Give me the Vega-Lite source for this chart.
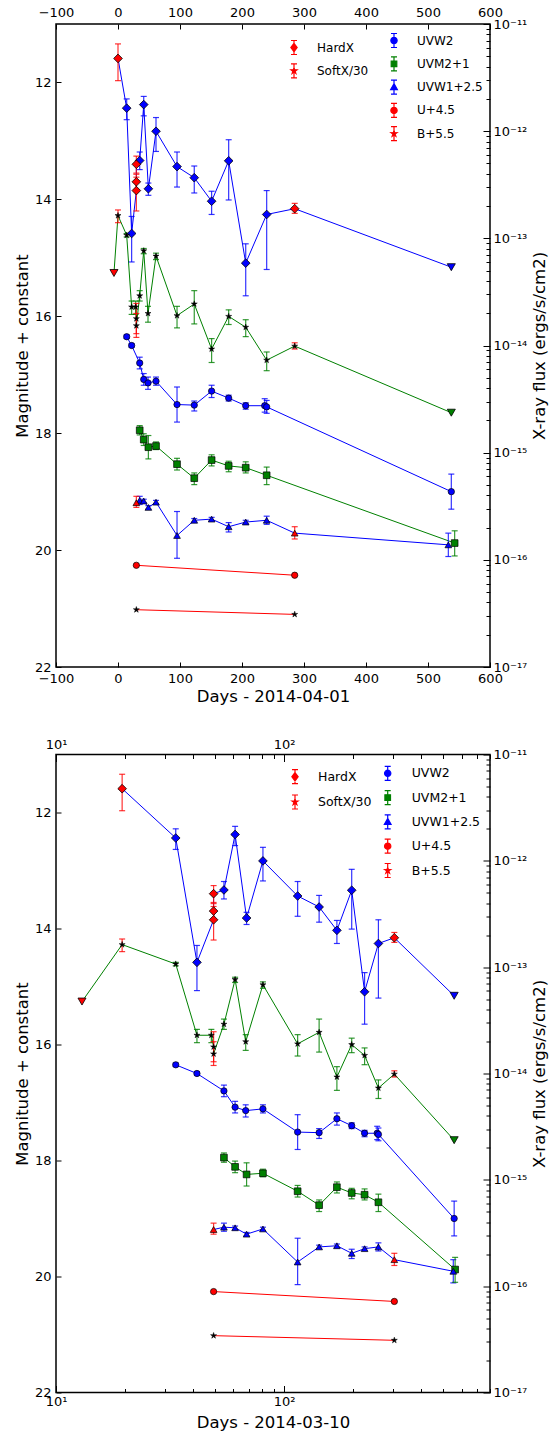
{
"$schema":"https://vega.github.io/schema/vega-lite/v6.json",
"padding":{"left":13,"top":5,"right":0,"bottom":0},
"spacing":28.5,
"data":{"values":[
{"s":"HardX","src":2,"d":0,"d2":19.5,"v":4.77e-12,"lo":2.96e-12,"hi":6.52e-12},
{"s":"HardX","src":1,"d":14,"d2":33.5,"v":1.64e-12,"lo":1.28e-12,"hi":2.0e-12},
{"s":"HardX","src":1,"d":22,"d2":41.5,"v":1.11e-13,"lo":6.02e-14,"hi":1.6e-13},
{"s":"HardX","src":2,"d":29.6,"d2":49.1,"v":2.79e-13,"lo":1.8e-13,"hi":3.72e-13},
{"s":"HardX","src":2,"d":29.6,"d2":49.1,"v":3.37e-13,"lo":2.79e-13,"hi":3.96e-13},
{"s":"HardX","src":2,"d":29.6,"d2":49.1,"v":4.91e-13,"lo":4.06e-13,"hi":5.85e-13},
{"s":"HardX","src":1,"d":35,"d2":54.5,"v":5.32e-13,"lo":4.38e-13,"hi":6.39e-13},
{"s":"HardX","src":1,"d":41.5,"d2":61,"v":1.77e-12,"lo":1.39e-12,"hi":2.11e-12},
{"s":"HardX","src":1,"d":49,"d2":68.5,"v":2.9e-13,"lo":2.52e-13,"hi":3.28e-13},
{"s":"HardX","src":1,"d":61.3,"d2":80.8,"v":9.98e-13,"lo":6.47e-13,"hi":1.34e-12},
{"s":"HardX","src":1,"d":95.2,"d2":114.7,"v":4.67e-13,"lo":3.01e-13,"hi":6.39e-13},
{"s":"HardX","src":1,"d":123,"d2":142.5,"v":3.68e-13,"lo":2.65e-13,"hi":4.73e-13},
{"s":"HardX","src":1,"d":151,"d2":170.5,"v":2.22e-13,"lo":1.67e-13,"hi":2.75e-13},
{"s":"HardX","src":1,"d":178.5,"d2":198,"v":5.29e-13,"lo":2.28e-13,"hi":8.32e-13},
{"s":"HardX","src":1,"d":206,"d2":225.5,"v":5.87e-14,"lo":2.91e-14,"hi":8.89e-14},
{"s":"HardX","src":1,"d":239.8,"d2":259.3,"v":1.67e-13,"lo":5.12e-14,"hi":2.79e-13},
{"s":"HardX","src":2,"d":285,"d2":304.5,"v":1.89e-13,"lo":1.71e-13,"hi":2.12e-13},
{"s":"HardX","src":1,"ul":true,"d":537.6,"d2":557.1,"v":5.38e-14},
{"s":"SoftX","src":2,"ul":true,"d":-6.5,"d2":13,"v":4.75e-14},
{"s":"SoftX","src":2,"d":0,"d2":19.5,"v":1.63e-13,"lo":1.4e-13,"hi":1.84e-13},
{"s":"SoftX","src":1,"d":14,"d2":33.5,"v":1.07e-13,"lo":1.03e-13,"hi":1.11e-13},
{"s":"SoftX","src":1,"d":22,"d2":41.5,"v":2.29e-14,"lo":1.95e-14,"hi":2.6e-14},
{"s":"SoftX","src":1,"d":28.5,"d2":48,"v":2.29e-14,"lo":1.95e-14,"hi":2.6e-14},
{"s":"SoftX","src":2,"d":29.6,"d2":49.1,"v":1.78e-14,"lo":1.29e-14,"hi":2.47e-14},
{"s":"SoftX","src":2,"d":29.6,"d2":49.1,"v":1.53e-14,"lo":1.19e-14,"hi":1.99e-14},
{"s":"SoftX","src":1,"d":35,"d2":54.5,"v":2.91e-14,"lo":2.6e-14,"hi":3.25e-14},
{"s":"SoftX","src":1,"d":41.5,"d2":61,"v":7.65e-14,"lo":7.18e-14,"hi":8.04e-14},
{"s":"SoftX","src":1,"d":48.4,"d2":67.9,"v":1.99e-14,"lo":1.65e-14,"hi":2.32e-14},
{"s":"SoftX","src":1,"d":61.3,"d2":80.8,"v":6.83e-14,"lo":6.33e-14,"hi":7.27e-14},
{"s":"SoftX","src":1,"d":95.2,"d2":114.7,"v":1.9e-14,"lo":1.46e-14,"hi":2.32e-14},
{"s":"SoftX","src":1,"d":123,"d2":142.5,"v":2.44e-14,"lo":1.59e-14,"hi":3.25e-14},
{"s":"SoftX","src":1,"d":151,"d2":170.5,"v":9.27e-15,"lo":6.94e-15,"hi":1.16e-14},
{"s":"SoftX","src":1,"d":178.5,"d2":198,"v":1.87e-14,"lo":1.57e-14,"hi":2.15e-14},
{"s":"SoftX","src":1,"d":206,"d2":225.5,"v":1.48e-14,"lo":1.21e-14,"hi":1.74e-14},
{"s":"SoftX","src":1,"d":239.8,"d2":259.3,"v":7.3e-15,"lo":5.82e-15,"hi":8.7e-15},
{"s":"SoftX","src":2,"d":285,"d2":304.5,"v":9.87e-15,"lo":9.27e-15,"hi":1.06e-14},
{"s":"SoftX","src":1,"ul":true,"d":537.6,"d2":557.1,"v":2.36e-15},
{"s":"UVW2","src":1,"d":14,"d2":33.5,"v":16.35,"lo":16.32,"hi":16.38},
{"s":"UVW2","src":1,"d":22,"d2":41.5,"v":16.5,"lo":16.47,"hi":16.53},
{"s":"UVW2","src":1,"d":35,"d2":54.5,"v":16.8,"lo":16.7,"hi":16.9},
{"s":"UVW2","src":1,"d":41.5,"d2":61,"v":17.08,"lo":16.98,"hi":17.18},
{"s":"UVW2","src":1,"d":48.4,"d2":67.9,"v":17.14,"lo":17.04,"hi":17.25},
{"s":"UVW2","src":1,"d":61.3,"d2":80.8,"v":17.11,"lo":17.04,"hi":17.18},
{"s":"UVW2","src":1,"d":95.2,"d2":114.7,"v":17.51,"lo":17.21,"hi":17.81},
{"s":"UVW2","src":1,"d":123,"d2":142.5,"v":17.52,"lo":17.45,"hi":17.62},
{"s":"UVW2","src":1,"d":151,"d2":170.5,"v":17.28,"lo":17.18,"hi":17.39},
{"s":"UVW2","src":1,"d":178.5,"d2":198,"v":17.4,"lo":17.35,"hi":17.45},
{"s":"UVW2","src":1,"d":206,"d2":225.5,"v":17.53,"lo":17.48,"hi":17.59},
{"s":"UVW2","src":1,"d":236.6,"d2":256.1,"v":17.53,"lo":17.41,"hi":17.64},
{"s":"UVW2","src":1,"d":239.8,"d2":259.3,"v":17.55,"lo":17.44,"hi":17.66},
{"s":"UVW2","src":1,"d":537.6,"d2":557.1,"v":19.0,"lo":18.7,"hi":19.3},
{"s":"UVM2","src":1,"d":35,"d2":54.5,"v":17.95,"lo":17.87,"hi":18.03},
{"s":"UVM2","src":1,"d":41.5,"d2":61,"v":18.11,"lo":18.01,"hi":18.21},
{"s":"UVM2","src":1,"d":49,"d2":68.5,"v":18.24,"lo":18.04,"hi":18.44},
{"s":"UVM2","src":1,"d":61.3,"d2":80.8,"v":18.22,"lo":18.15,"hi":18.28},
{"s":"UVM2","src":1,"d":95.2,"d2":114.7,"v":18.53,"lo":18.43,"hi":18.63},
{"s":"UVM2","src":1,"d":123,"d2":142.5,"v":18.77,"lo":18.68,"hi":18.88},
{"s":"UVM2","src":1,"d":151,"d2":170.5,"v":18.46,"lo":18.37,"hi":18.56},
{"s":"UVM2","src":1,"d":178.5,"d2":198,"v":18.56,"lo":18.48,"hi":18.66},
{"s":"UVM2","src":1,"d":206,"d2":225.5,"v":18.59,"lo":18.49,"hi":18.68},
{"s":"UVM2","src":1,"d":239.8,"d2":259.3,"v":18.72,"lo":18.58,"hi":18.88},
{"s":"UVM2","src":1,"d":543,"d2":562.5,"v":19.88,"lo":19.67,"hi":20.1},
{"s":"UVW1","src":2,"d":29.6,"d2":49.1,"v":19.19,"lo":19.08,"hi":19.27},
{"s":"UVW1","src":1,"d":35,"d2":54.5,"v":19.15,"lo":19.08,"hi":19.22},
{"s":"UVW1","src":1,"d":41.5,"d2":61,"v":19.16,"lo":19.13,"hi":19.19},
{"s":"UVW1","src":1,"d":49,"d2":68.5,"v":19.27,"lo":19.24,"hi":19.3},
{"s":"UVW1","src":1,"d":61.3,"d2":80.8,"v":19.18,"lo":19.15,"hi":19.21},
{"s":"UVW1","src":1,"d":95.2,"d2":114.7,"v":19.75,"lo":19.34,"hi":20.14},
{"s":"UVW1","src":1,"d":123,"d2":142.5,"v":19.49,"lo":19.46,"hi":19.52},
{"s":"UVW1","src":1,"d":151,"d2":170.5,"v":19.47,"lo":19.44,"hi":19.5},
{"s":"UVW1","src":1,"d":178.5,"d2":198,"v":19.6,"lo":19.53,"hi":19.69},
{"s":"UVW1","src":1,"d":206,"d2":225.5,"v":19.52,"lo":19.49,"hi":19.55},
{"s":"UVW1","src":1,"d":239.8,"d2":259.3,"v":19.49,"lo":19.42,"hi":19.56},
{"s":"UVW1","src":2,"d":285,"d2":304.5,"v":19.71,"lo":19.6,"hi":19.81},
{"s":"UVW1","src":1,"d":532.8,"d2":552.3,"v":19.91,"lo":19.71,"hi":20.11},
{"s":"U","src":1,"d":29.6,"d2":49.1,"v":20.26},
{"s":"U","src":1,"d":285,"d2":304.5,"v":20.43},
{"s":"B","src":1,"d":29.6,"d2":49.1,"v":21.02},
{"s":"B","src":1,"d":285,"d2":304.5,"v":21.1}
]},
"resolve":{"scale":{"fill":"independent","stroke":"independent","shape":"independent"}},
"vconcat":[
{
"width":434,"height":643,
"resolve":{"scale":{"y":"independent","fill":"independent","stroke":"independent","shape":"independent"},"axis":{"x":"independent","y":"independent"}},
"layer":[
{
"encoding":{
"x":{"field":"d","type":"quantitative","scale":{"domain":[-100,600],"nice":false,"zero":false},"axis":{"orient":"bottom","title":"Days - 2014-04-01","values":[-100,0,100,200,300,400,500,600],"titlePadding":3}},
"y":{"field":"v","type":"quantitative","scale":{"domain":[11,22],"reverse":true,"nice":false,"zero":false},"axis":{"orient":"left","title":"Magnitude + constant","values":[12,14,16,18,20,22],"titlePadding":4}}
},
"layer":[
{"transform":[{"filter":"datum.s=='UVW2'"}],"mark":{"type":"line","color":"#0000ff","strokeWidth":1}},
{"transform":[{"filter":"datum.s=='UVM2'"}],"mark":{"type":"line","color":"#008000","strokeWidth":1}},
{"transform":[{"filter":"datum.s=='UVW1'"}],"mark":{"type":"line","color":"#0000ff","strokeWidth":1}},
{"transform":[{"filter":"datum.s=='U'"}],"mark":{"type":"line","color":"#ff0000","strokeWidth":1}},
{"transform":[{"filter":"datum.s=='B'"}],"mark":{"type":"line","color":"#ff0000","strokeWidth":1}},
{"transform":[{"filter":"(datum.s=='UVW2'||datum.s=='UVW1')&&datum.src==1"}],"mark":{"type":"errorbar","ticks":true,"color":"#0000ff","size":6,"thickness":1.2,"opacity":0.8},"encoding":{"y":{"field":"lo","type":"quantitative"},"y2":{"field":"hi"}}},
{"transform":[{"filter":"datum.s=='UVM2'"}],"mark":{"type":"errorbar","ticks":true,"color":"#008000","size":6,"thickness":1.2,"opacity":0.8},"encoding":{"y":{"field":"lo","type":"quantitative"},"y2":{"field":"hi"}}},
{"transform":[{"filter":"datum.s=='UVW1'&&datum.src==2"}],"mark":{"type":"errorbar","ticks":true,"color":"#ff0000","size":6,"thickness":1.2,"opacity":0.8},"encoding":{"y":{"field":"lo","type":"quantitative"},"y2":{"field":"hi"}}},
{"transform":[{"filter":"datum.s=='UVW2'"}],"mark":{"type":"point","shape":"circle","filled":true,"fill":"#0000ff","stroke":"black","strokeWidth":0.7,"size":40,"opacity":1}},
{"transform":[{"filter":"datum.s=='UVM2'"}],"mark":{"type":"point","shape":"square","filled":true,"fill":"#008000","stroke":"black","strokeWidth":0.7,"size":45,"opacity":1}},
{"transform":[{"filter":"datum.s=='UVW1'&&datum.src==1"}],"mark":{"type":"point","shape":"triangle-up","filled":true,"fill":"#0000ff","stroke":"black","strokeWidth":0.7,"size":45,"opacity":1}},
{"transform":[{"filter":"datum.s=='UVW1'&&datum.src==2"}],"mark":{"type":"point","shape":"triangle-up","filled":true,"fill":"#ff0000","stroke":"black","strokeWidth":0.7,"size":45,"opacity":1}},
{"transform":[{"filter":"datum.s=='U'"}],"mark":{"type":"point","shape":"circle","filled":true,"fill":"#ff0000","stroke":"black","strokeWidth":0.7,"size":40,"opacity":1}},
{"transform":[{"filter":"datum.s=='B'"}],"mark":{"type":"point","shape":"M0,-1L0.223,-0.307L0.951,-0.309L0.361,0.117L0.588,0.809L0,0.38L-0.588,0.809L-0.361,0.117L-0.951,-0.309L-0.223,-0.307Z","filled":true,"fill":"black","stroke":"black","strokeWidth":0.5,"size":40,"opacity":1}},
{"data":{"values":[{"lab":"UVW2"},{"lab":"UVM2+1"},{"lab":"UVW1+2.5"},{"lab":"U+4.5"},{"lab":"B+5.5"}]},
"mark":{"type":"point","filled":true,"opacity":0},
"encoding":{
"fill":{"field":"lab","type":"nominal","scale":{"domain":["UVW2","UVM2+1","UVW1+2.5","U+4.5","B+5.5"],"range":["#0000ff","#008000","#0000ff","#ff0000","black"]},"legend":{"orient":"none","legendX":330,"legendY":8.5,"title":null,"symbolOpacity":1,"symbolSize":196,"symbolStrokeWidth":1.2,"labelFontSize":12,"labelOffset":15,"rowPadding":3.3,"padding":0}},
"stroke":{"field":"lab","type":"nominal","scale":{"domain":["UVW2","UVM2+1","UVW1+2.5","U+4.5","B+5.5"],"range":["#0000ff","#008000","#0000ff","#ff0000","#ff0000"]},"legend":{"orient":"none","legendX":330,"legendY":8.5,"title":null,"symbolOpacity":1,"symbolSize":196,"symbolStrokeWidth":1.2,"labelFontSize":12,"labelOffset":15,"rowPadding":3.3,"padding":0}},
"shape":{"field":"lab","type":"nominal","scale":{"domain":["UVW2","UVM2+1","UVW1+2.5","U+4.5","B+5.5"],"range":[
"M0,-1L0,1M-0.43,-1L0.43,-1M-0.43,1L0.43,1M-0.45,0A0.45,0.45,0,1,0,0.45,0A0.45,0.45,0,1,0,-0.45,0Z",
"M0,-1L0,1M-0.43,-1L0.43,-1M-0.43,1L0.43,1M-0.4,-0.4L0.4,-0.4L0.4,0.4L-0.4,0.4Z",
"M0,-1L0,1M-0.43,-1L0.43,-1M-0.43,1L0.43,1M0,-0.5L0.48,0.35L-0.48,0.35Z",
"M0,-1L0,1M-0.43,-1L0.43,-1M-0.43,1L0.43,1M-0.45,0A0.45,0.45,0,1,0,0.45,0A0.45,0.45,0,1,0,-0.45,0Z",
"M0,-1L0,1M-0.43,-1L0.43,-1M-0.43,1L0.43,1M0,-0.45L0.1,-0.138L0.428,-0.139L0.162,0.053L0.265,0.364L0,0.171L-0.265,0.364L-0.162,0.053L-0.428,-0.139L-0.1,-0.138Z"]},"legend":{"orient":"none","legendX":330,"legendY":8.5,"title":null,"symbolOpacity":1,"symbolSize":196,"symbolStrokeWidth":1.2,"labelFontSize":12,"labelOffset":15,"rowPadding":3.3,"padding":0}}
}}
]
},
{
"encoding":{
"x":{"field":"d","type":"quantitative","scale":{"domain":[-100,600],"nice":false,"zero":false},"axis":{"orient":"top","title":null,"values":[-100,0,100,200,300,400,500,600]}},
"y":{"field":"v","type":"quantitative","scale":{"type":"log","domain":[1e-17,1e-11],"nice":false},"axis":{"orient":"right","title":"X-ray flux (ergs/s/cm2)","titleAngle":270,"titleBaseline":"top","titlePadding":5,
"values":[1e-17,2e-17,3e-17,4e-17,5e-17,6e-17,7e-17,8e-17,9e-17,1e-16,2e-16,3e-16,4e-16,5e-16,6e-16,7e-16,8e-16,9e-16,1e-15,2e-15,3e-15,4e-15,5e-15,6e-15,7e-15,8e-15,9e-15,1e-14,2e-14,3e-14,4e-14,5e-14,6e-14,7e-14,8e-14,9e-14,1e-13,2e-13,3e-13,4e-13,5e-13,6e-13,7e-13,8e-13,9e-13,1e-12,2e-12,3e-12,4e-12,5e-12,6e-12,7e-12,8e-12,9e-12,1e-11],
"labelExpr":"datum.value==1e-11?'10⁻¹¹':datum.value==1e-12?'10⁻¹²':datum.value==1e-13?'10⁻¹³':datum.value==1e-14?'10⁻¹⁴':datum.value==1e-15?'10⁻¹⁵':datum.value==1e-16?'10⁻¹⁶':datum.value==1e-17?'10⁻¹⁷':''",
"tickSize":{"condition":{"test":"indexof([1e-11,1e-12,1e-13,1e-14,1e-15,1e-16,1e-17],datum.value)>=0","value":-7},"value":-4}}}
},
"layer":[
{"transform":[{"filter":"datum.s=='HardX'"}],"mark":{"type":"line","color":"#0000ff","strokeWidth":1}},
{"transform":[{"filter":"datum.s=='SoftX'"}],"mark":{"type":"line","color":"#008000","strokeWidth":1}},
{"transform":[{"filter":"datum.s=='HardX'&&datum.src==1&&!datum.ul"}],"mark":{"type":"errorbar","ticks":true,"color":"#0000ff","size":6,"thickness":1.2,"opacity":0.8},"encoding":{"y":{"field":"lo","type":"quantitative"},"y2":{"field":"hi"}}},
{"transform":[{"filter":"datum.s=='SoftX'&&datum.src==1&&!datum.ul"}],"mark":{"type":"errorbar","ticks":true,"color":"#008000","size":6,"thickness":1.2,"opacity":0.8},"encoding":{"y":{"field":"lo","type":"quantitative"},"y2":{"field":"hi"}}},
{"transform":[{"filter":"(datum.s=='HardX'||datum.s=='SoftX')&&datum.src==2&&!datum.ul"}],"mark":{"type":"errorbar","ticks":true,"color":"#ff0000","size":6,"thickness":1.2,"opacity":0.8},"encoding":{"y":{"field":"lo","type":"quantitative"},"y2":{"field":"hi"}}},
{"transform":[{"filter":"datum.s=='HardX'&&datum.src==1&&!datum.ul"}],"mark":{"type":"point","shape":"diamond","filled":true,"fill":"#0000ff","stroke":"black","strokeWidth":0.8,"size":75,"opacity":1}},
{"transform":[{"filter":"datum.s=='HardX'&&datum.src==2"}],"mark":{"type":"point","shape":"diamond","filled":true,"fill":"#ff0000","stroke":"black","strokeWidth":0.8,"size":75,"opacity":1}},
{"transform":[{"filter":"datum.s=='HardX'&&datum.ul"}],"mark":{"type":"point","shape":"triangle-down","filled":true,"fill":"#0000ff","stroke":"black","strokeWidth":0.8,"size":65,"opacity":1}},
{"transform":[{"filter":"datum.s=='SoftX'&&!datum.ul"}],"mark":{"type":"point","shape":"M0,-1L0.223,-0.307L0.951,-0.309L0.361,0.117L0.588,0.809L0,0.38L-0.588,0.809L-0.361,0.117L-0.951,-0.309L-0.223,-0.307Z","filled":true,"fill":"black","stroke":"black","strokeWidth":0.5,"size":40,"opacity":1}},
{"transform":[{"filter":"datum.s=='SoftX'&&datum.ul&&datum.src==2"}],"mark":{"type":"point","shape":"triangle-down","filled":true,"fill":"#ff0000","stroke":"black","strokeWidth":0.8,"size":65,"opacity":1}},
{"transform":[{"filter":"datum.s=='SoftX'&&datum.ul&&datum.src==1"}],"mark":{"type":"point","shape":"triangle-down","filled":true,"fill":"#008000","stroke":"black","strokeWidth":0.8,"size":65,"opacity":1}},
{"data":{"values":[{"lab":"HardX"},{"lab":"SoftX/30"}]},
"mark":{"type":"point","filled":true,"opacity":0},
"encoding":{
"fill":{"field":"lab","type":"nominal","scale":{"domain":["HardX","SoftX/30"],"range":["#ff0000","black"]},"legend":{"orient":"none","legendX":230,"legendY":15.5,"title":null,"symbolOpacity":1,"symbolSize":196,"symbolStrokeWidth":1.2,"labelFontSize":12,"labelOffset":15,"rowPadding":3.3,"padding":0}},
"stroke":{"field":"lab","type":"nominal","scale":{"domain":["HardX","SoftX/30"],"range":["#ff0000","#ff0000"]},"legend":{"orient":"none","legendX":230,"legendY":15.5,"title":null,"symbolOpacity":1,"symbolSize":196,"symbolStrokeWidth":1.2,"labelFontSize":12,"labelOffset":15,"rowPadding":3.3,"padding":0}},
"shape":{"field":"lab","type":"nominal","scale":{"domain":["HardX","SoftX/30"],"range":[
"M0,-1L0,1M-0.43,-1L0.43,-1M-0.43,1L0.43,1M0,-0.6L0.45,0L0,0.6L-0.45,0Z",
"M0,-1L0,1M-0.43,-1L0.43,-1M-0.43,1L0.43,1M0,-0.45L0.1,-0.138L0.428,-0.139L0.162,0.053L0.265,0.364L0,0.171L-0.265,0.364L-0.162,0.053L-0.428,-0.139L-0.1,-0.138Z"]},"legend":{"orient":"none","legendX":230,"legendY":15.5,"title":null,"symbolOpacity":1,"symbolSize":196,"symbolStrokeWidth":1.2,"labelFontSize":12,"labelOffset":15,"rowPadding":3.3,"padding":0}}
}}
]
}
]
},
{
"width":434,"height":638,
"resolve":{"scale":{"y":"independent","fill":"independent","stroke":"independent","shape":"independent"},"axis":{"x":"independent","y":"independent"}},
"layer":[
{
"encoding":{
"x":{"field":"d2","type":"quantitative","scale":{"type":"log","domain":[10,800],"nice":false},"axis":{"orient":"bottom","title":"Days - 2014-03-10","titlePadding":3,"values":[10,20,30,40,50,60,70,80,90,100,200,300,400,500,600,700,800],"labelExpr":"datum.value==10?'10¹':datum.value==100?'10²':''","tickSize":{"condition":{"test":"datum.value==10||datum.value==100","value":-7},"value":-4}}},
"y":{"field":"v","type":"quantitative","scale":{"domain":[11,22],"reverse":true,"nice":false,"zero":false},"axis":{"orient":"left","title":"Magnitude + constant","values":[12,14,16,18,20,22],"titlePadding":4}}
},
"layer":[
{"transform":[{"filter":"datum.s=='UVW2'"}],"mark":{"type":"line","color":"#0000ff","strokeWidth":1}},
{"transform":[{"filter":"datum.s=='UVM2'"}],"mark":{"type":"line","color":"#008000","strokeWidth":1}},
{"transform":[{"filter":"datum.s=='UVW1'"}],"mark":{"type":"line","color":"#0000ff","strokeWidth":1}},
{"transform":[{"filter":"datum.s=='U'"}],"mark":{"type":"line","color":"#ff0000","strokeWidth":1}},
{"transform":[{"filter":"datum.s=='B'"}],"mark":{"type":"line","color":"#ff0000","strokeWidth":1}},
{"transform":[{"filter":"(datum.s=='UVW2'||datum.s=='UVW1')&&datum.src==1"}],"mark":{"type":"errorbar","ticks":true,"color":"#0000ff","size":6,"thickness":1.2,"opacity":0.8},"encoding":{"y":{"field":"lo","type":"quantitative"},"y2":{"field":"hi"}}},
{"transform":[{"filter":"datum.s=='UVM2'"}],"mark":{"type":"errorbar","ticks":true,"color":"#008000","size":6,"thickness":1.2,"opacity":0.8},"encoding":{"y":{"field":"lo","type":"quantitative"},"y2":{"field":"hi"}}},
{"transform":[{"filter":"datum.s=='UVW1'&&datum.src==2"}],"mark":{"type":"errorbar","ticks":true,"color":"#ff0000","size":6,"thickness":1.2,"opacity":0.8},"encoding":{"y":{"field":"lo","type":"quantitative"},"y2":{"field":"hi"}}},
{"transform":[{"filter":"datum.s=='UVW2'"}],"mark":{"type":"point","shape":"circle","filled":true,"fill":"#0000ff","stroke":"black","strokeWidth":0.7,"size":40,"opacity":1}},
{"transform":[{"filter":"datum.s=='UVM2'"}],"mark":{"type":"point","shape":"square","filled":true,"fill":"#008000","stroke":"black","strokeWidth":0.7,"size":45,"opacity":1}},
{"transform":[{"filter":"datum.s=='UVW1'&&datum.src==1"}],"mark":{"type":"point","shape":"triangle-up","filled":true,"fill":"#0000ff","stroke":"black","strokeWidth":0.7,"size":45,"opacity":1}},
{"transform":[{"filter":"datum.s=='UVW1'&&datum.src==2"}],"mark":{"type":"point","shape":"triangle-up","filled":true,"fill":"#ff0000","stroke":"black","strokeWidth":0.7,"size":45,"opacity":1}},
{"transform":[{"filter":"datum.s=='U'"}],"mark":{"type":"point","shape":"circle","filled":true,"fill":"#ff0000","stroke":"black","strokeWidth":0.7,"size":40,"opacity":1}},
{"transform":[{"filter":"datum.s=='B'"}],"mark":{"type":"point","shape":"M0,-1L0.223,-0.307L0.951,-0.309L0.361,0.117L0.588,0.809L0,0.38L-0.588,0.809L-0.361,0.117L-0.951,-0.309L-0.223,-0.307Z","filled":true,"fill":"black","stroke":"black","strokeWidth":0.5,"size":40,"opacity":1}},
{"data":{"values":[{"lab":"UVW2"},{"lab":"UVM2+1"},{"lab":"UVW1+2.5"},{"lab":"U+4.5"},{"lab":"B+5.5"}]},
"mark":{"type":"point","filled":true,"opacity":0},
"encoding":{
"fill":{"field":"lab","type":"nominal","scale":{"domain":["UVW2","UVM2+1","UVW1+2.5","U+4.5","B+5.5"],"range":["#0000ff","#008000","#0000ff","#ff0000","black"]},"legend":{"orient":"none","legendX":323.7,"legendY":10.8,"title":null,"symbolOpacity":1,"symbolSize":196,"symbolStrokeWidth":1.2,"labelFontSize":12.5,"labelOffset":16,"rowPadding":4.3,"padding":0}},
"stroke":{"field":"lab","type":"nominal","scale":{"domain":["UVW2","UVM2+1","UVW1+2.5","U+4.5","B+5.5"],"range":["#0000ff","#008000","#0000ff","#ff0000","#ff0000"]},"legend":{"orient":"none","legendX":323.7,"legendY":10.8,"title":null,"symbolOpacity":1,"symbolSize":196,"symbolStrokeWidth":1.2,"labelFontSize":12.5,"labelOffset":16,"rowPadding":4.3,"padding":0}},
"shape":{"field":"lab","type":"nominal","scale":{"domain":["UVW2","UVM2+1","UVW1+2.5","U+4.5","B+5.5"],"range":[
"M0,-1L0,1M-0.43,-1L0.43,-1M-0.43,1L0.43,1M-0.45,0A0.45,0.45,0,1,0,0.45,0A0.45,0.45,0,1,0,-0.45,0Z",
"M0,-1L0,1M-0.43,-1L0.43,-1M-0.43,1L0.43,1M-0.4,-0.4L0.4,-0.4L0.4,0.4L-0.4,0.4Z",
"M0,-1L0,1M-0.43,-1L0.43,-1M-0.43,1L0.43,1M0,-0.5L0.48,0.35L-0.48,0.35Z",
"M0,-1L0,1M-0.43,-1L0.43,-1M-0.43,1L0.43,1M-0.45,0A0.45,0.45,0,1,0,0.45,0A0.45,0.45,0,1,0,-0.45,0Z",
"M0,-1L0,1M-0.43,-1L0.43,-1M-0.43,1L0.43,1M0,-0.45L0.1,-0.138L0.428,-0.139L0.162,0.053L0.265,0.364L0,0.171L-0.265,0.364L-0.162,0.053L-0.428,-0.139L-0.1,-0.138Z"]},"legend":{"orient":"none","legendX":323.7,"legendY":10.8,"title":null,"symbolOpacity":1,"symbolSize":196,"symbolStrokeWidth":1.2,"labelFontSize":12.5,"labelOffset":16,"rowPadding":4.3,"padding":0}}
}}
]
},
{
"encoding":{
"x":{"field":"d2","type":"quantitative","scale":{"type":"log","domain":[10,800],"nice":false},"axis":{"orient":"top","title":null,"values":[10,20,30,40,50,60,70,80,90,100,200,300,400,500,600,700,800],"labelExpr":"datum.value==10?'10¹':datum.value==100?'10²':''","tickSize":{"condition":{"test":"datum.value==10||datum.value==100","value":-7},"value":-4}}},
"y":{"field":"v","type":"quantitative","scale":{"type":"log","domain":[1e-17,1e-11],"nice":false},"axis":{"orient":"right","title":"X-ray flux (ergs/s/cm2)","titleAngle":270,"titleBaseline":"top","titlePadding":5,
"values":[1e-17,2e-17,3e-17,4e-17,5e-17,6e-17,7e-17,8e-17,9e-17,1e-16,2e-16,3e-16,4e-16,5e-16,6e-16,7e-16,8e-16,9e-16,1e-15,2e-15,3e-15,4e-15,5e-15,6e-15,7e-15,8e-15,9e-15,1e-14,2e-14,3e-14,4e-14,5e-14,6e-14,7e-14,8e-14,9e-14,1e-13,2e-13,3e-13,4e-13,5e-13,6e-13,7e-13,8e-13,9e-13,1e-12,2e-12,3e-12,4e-12,5e-12,6e-12,7e-12,8e-12,9e-12,1e-11],
"labelExpr":"datum.value==1e-11?'10⁻¹¹':datum.value==1e-12?'10⁻¹²':datum.value==1e-13?'10⁻¹³':datum.value==1e-14?'10⁻¹⁴':datum.value==1e-15?'10⁻¹⁵':datum.value==1e-16?'10⁻¹⁶':datum.value==1e-17?'10⁻¹⁷':''",
"tickSize":{"condition":{"test":"indexof([1e-11,1e-12,1e-13,1e-14,1e-15,1e-16,1e-17],datum.value)>=0","value":-7},"value":-4}}}
},
"layer":[
{"transform":[{"filter":"datum.s=='HardX'"}],"mark":{"type":"line","color":"#0000ff","strokeWidth":1}},
{"transform":[{"filter":"datum.s=='SoftX'"}],"mark":{"type":"line","color":"#008000","strokeWidth":1}},
{"transform":[{"filter":"datum.s=='HardX'&&datum.src==1&&!datum.ul"}],"mark":{"type":"errorbar","ticks":true,"color":"#0000ff","size":6,"thickness":1.2,"opacity":0.8},"encoding":{"y":{"field":"lo","type":"quantitative"},"y2":{"field":"hi"}}},
{"transform":[{"filter":"datum.s=='SoftX'&&datum.src==1&&!datum.ul"}],"mark":{"type":"errorbar","ticks":true,"color":"#008000","size":6,"thickness":1.2,"opacity":0.8},"encoding":{"y":{"field":"lo","type":"quantitative"},"y2":{"field":"hi"}}},
{"transform":[{"filter":"(datum.s=='HardX'||datum.s=='SoftX')&&datum.src==2&&!datum.ul"}],"mark":{"type":"errorbar","ticks":true,"color":"#ff0000","size":6,"thickness":1.2,"opacity":0.8},"encoding":{"y":{"field":"lo","type":"quantitative"},"y2":{"field":"hi"}}},
{"transform":[{"filter":"datum.s=='HardX'&&datum.src==1&&!datum.ul"}],"mark":{"type":"point","shape":"diamond","filled":true,"fill":"#0000ff","stroke":"black","strokeWidth":0.8,"size":75,"opacity":1}},
{"transform":[{"filter":"datum.s=='HardX'&&datum.src==2"}],"mark":{"type":"point","shape":"diamond","filled":true,"fill":"#ff0000","stroke":"black","strokeWidth":0.8,"size":75,"opacity":1}},
{"transform":[{"filter":"datum.s=='HardX'&&datum.ul"}],"mark":{"type":"point","shape":"triangle-down","filled":true,"fill":"#0000ff","stroke":"black","strokeWidth":0.8,"size":65,"opacity":1}},
{"transform":[{"filter":"datum.s=='SoftX'&&!datum.ul"}],"mark":{"type":"point","shape":"M0,-1L0.223,-0.307L0.951,-0.309L0.361,0.117L0.588,0.809L0,0.38L-0.588,0.809L-0.361,0.117L-0.951,-0.309L-0.223,-0.307Z","filled":true,"fill":"black","stroke":"black","strokeWidth":0.5,"size":40,"opacity":1}},
{"transform":[{"filter":"datum.s=='SoftX'&&datum.ul&&datum.src==2"}],"mark":{"type":"point","shape":"triangle-down","filled":true,"fill":"#ff0000","stroke":"black","strokeWidth":0.8,"size":65,"opacity":1}},
{"transform":[{"filter":"datum.s=='SoftX'&&datum.ul&&datum.src==1"}],"mark":{"type":"point","shape":"triangle-down","filled":true,"fill":"#008000","stroke":"black","strokeWidth":0.8,"size":65,"opacity":1}},
{"data":{"values":[{"lab":"HardX"},{"lab":"SoftX/30"}]},
"mark":{"type":"point","filled":true,"opacity":0},
"encoding":{
"fill":{"field":"lab","type":"nominal","scale":{"domain":["HardX","SoftX/30"],"range":["#ff0000","black"]},"legend":{"orient":"none","legendX":231,"legendY":14.2,"title":null,"symbolOpacity":1,"symbolSize":196,"symbolStrokeWidth":1.2,"labelFontSize":12.5,"labelOffset":15,"rowPadding":5.3,"padding":0}},
"stroke":{"field":"lab","type":"nominal","scale":{"domain":["HardX","SoftX/30"],"range":["#ff0000","#ff0000"]},"legend":{"orient":"none","legendX":231,"legendY":14.2,"title":null,"symbolOpacity":1,"symbolSize":196,"symbolStrokeWidth":1.2,"labelFontSize":12.5,"labelOffset":15,"rowPadding":5.3,"padding":0}},
"shape":{"field":"lab","type":"nominal","scale":{"domain":["HardX","SoftX/30"],"range":[
"M0,-1L0,1M-0.43,-1L0.43,-1M-0.43,1L0.43,1M0,-0.6L0.45,0L0,0.6L-0.45,0Z",
"M0,-1L0,1M-0.43,-1L0.43,-1M-0.43,1L0.43,1M0,-0.45L0.1,-0.138L0.428,-0.139L0.162,0.053L0.265,0.364L0,0.171L-0.265,0.364L-0.162,0.053L-0.428,-0.139L-0.1,-0.138Z"]},"legend":{"orient":"none","legendX":231,"legendY":14.2,"title":null,"symbolOpacity":1,"symbolSize":196,"symbolStrokeWidth":1.2,"labelFontSize":12.5,"labelOffset":15,"rowPadding":5.3,"padding":0}}
}}
]
}
]
}
],
"config":{
"font":"DejaVu Sans",
"view":{"stroke":"black","strokeWidth":1.5},
"axis":{"domain":false,"grid":false,"ticks":true,"tickColor":"black","tickSize":-5,"tickWidth":1,"labelColor":"black","labelFont":"DejaVu Sans","labelFontSize":13,"labelPadding":10,"labelFlush":false,"labelOverlap":false,"labelBound":false,"titleFont":"DejaVu Sans","titleFontSize":16.5,"titleFontWeight":"normal","titleColor":"black"},
"legend":{"labelFont":"DejaVu Sans","labelColor":"black"}
}
}
